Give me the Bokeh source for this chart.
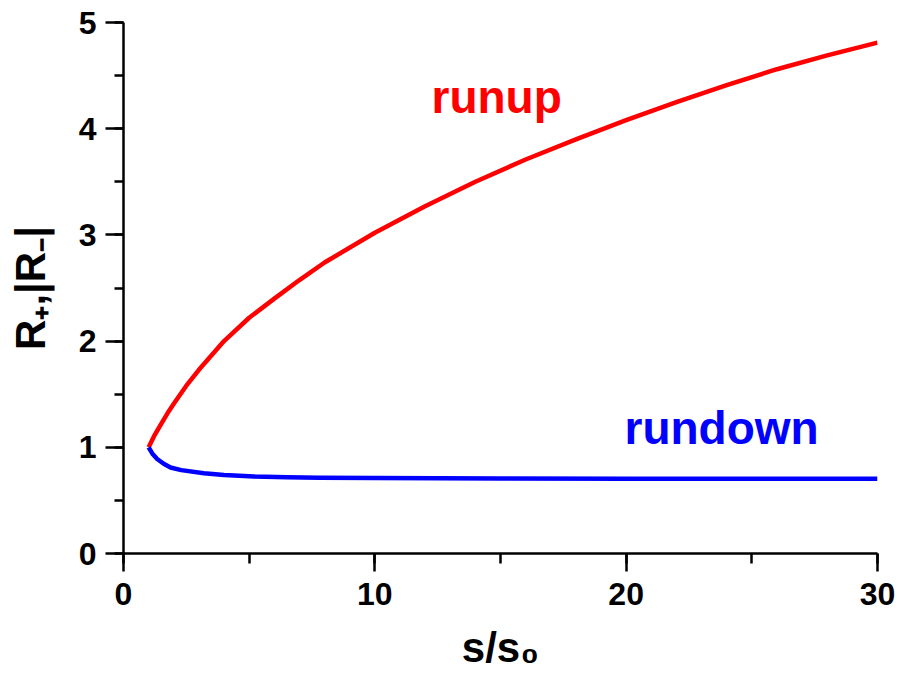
from bokeh.plotting import figure
from bokeh.models import Label, SingleIntervalTicker
from bokeh.embed import file_html
from bokeh.resources import INLINE

# data
s_up = [1, 1.25, 1.5, 1.75, 2, 2.5, 3, 4, 5, 6, 7, 8, 10, 12, 14, 16, 18, 20, 22, 24, 26, 28, 30]
r_up = [1.0, 1.12, 1.22, 1.32, 1.41, 1.58, 1.73, 2.0, 2.22, 2.40, 2.575, 2.74, 3.02, 3.27, 3.50, 3.71, 3.90, 4.08, 4.25, 4.41, 4.56, 4.69, 4.81]
s_down = [1, 1.15, 1.34, 1.6, 1.87, 2.3, 3.2, 4.0, 5.2, 6.5, 7.8, 10, 15, 20, 25, 30]
r_down = [1.0, 0.94, 0.89, 0.845, 0.81, 0.785, 0.756, 0.74, 0.725, 0.718, 0.713, 0.71, 0.707, 0.705, 0.704, 0.703]
x_title = "s/s\u2080"
y_title = "R\u208a,|R\u208b|"
curve_labels = ["runup", "rundown"]

FONT = "Liberation Sans"

p = figure(width=898, height=675, x_range=(0, 30), y_range=(0, 5),
           output_backend="svg", toolbar_location=None,
           min_border_left=123, min_border_right=21, min_border_top=22, min_border_bottom=122)
p.outline_line_color = None
p.xgrid.grid_line_color = None
p.ygrid.grid_line_color = None

p.xaxis.ticker = SingleIntervalTicker(interval=10, num_minor_ticks=2)
p.yaxis.ticker = SingleIntervalTicker(interval=1, num_minor_ticks=2)
for ax in (p.xaxis[0], p.yaxis[0]):
    ax.axis_line_width = 2.5
    ax.axis_line_color = "black"
    ax.major_tick_line_width = 2.5
    ax.minor_tick_line_width = 2.5
    ax.major_tick_line_color = "black"
    ax.minor_tick_line_color = "black"
    ax.major_tick_in = 0
    ax.minor_tick_in = 0
    ax.major_tick_out = 18
    ax.major_label_text_font = FONT
    ax.major_label_text_font_style = "bold"
    ax.major_label_text_font_size = "32px"
    ax.major_label_text_color = "black"
    ax.axis_label_text_font = FONT
    ax.axis_label_text_font_style = "bold"
    ax.axis_label_text_font_size = "42px"
    ax.axis_label_text_color = "black"
p.xaxis.minor_tick_out = 10
p.yaxis.minor_tick_out = 9
p.xaxis.major_label_standoff = 11
p.yaxis.major_label_standoff = 9
p.xaxis.axis_label = x_title
p.yaxis.axis_label = y_title
p.xaxis.axis_label_standoff = 16
p.yaxis.axis_label_standoff = 22

p.line(s_up, r_up, line_color="#ff0000", line_width=4.5, line_join="round")
p.line(s_down, r_down, line_color="#0000ff", line_width=4.5, line_join="round")

# page-pixel -> data helpers for annotation placement
def dx(px):
    return (px - 123) / (754 / 30)

def dy(py):
    return (553 - py) / (531 / 5)

for text, px, py, col in [(curve_labels[0], 431, 96, "#ff0000"), (curve_labels[1], 624, 427, "#0000ff")]:
    p.add_layout(Label(x=dx(px), y=dy(py), text=text, text_font=FONT, text_font_style="bold",
                       text_font_size="46px", text_color=col,
                       text_align="left", text_baseline="alphabetic"))

open("out.html", "w").write(file_html(p, INLINE))
